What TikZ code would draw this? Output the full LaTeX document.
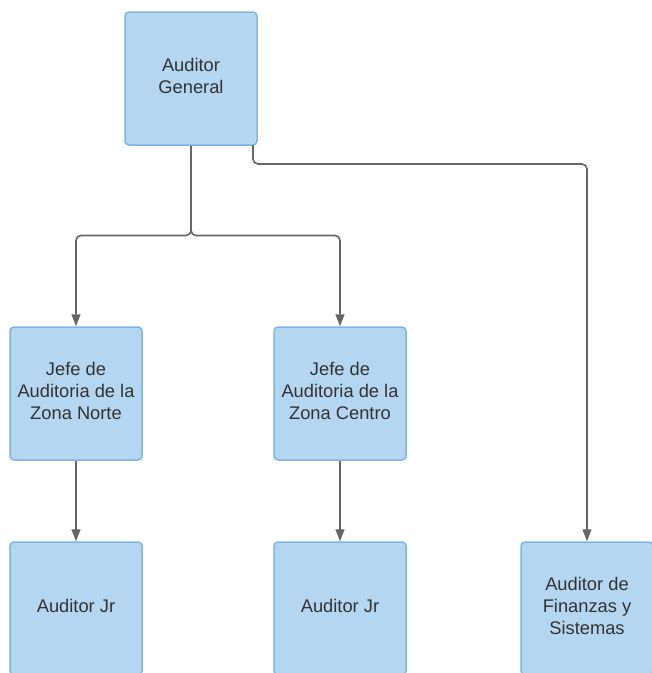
\documentclass[tikz,border=0pt]{standalone}
\usepackage{fontspec}
\setmainfont{Liberation Sans}
\usetikzlibrary{arrows.meta}
\definecolor{boxfill}{HTML}{B4D6F1}
\definecolor{boxline}{HTML}{7DB5E5}
\definecolor{linkc}{HTML}{666666}
\definecolor{txt}{HTML}{333333}
\newcommand{\boxtext}[1]{\raisebox{3.5pt}{\begin{tabular}{@{}c@{}}#1\end{tabular}}}
\tikzset{
  orgbox/.style={rectangle, rounded corners=4pt, fill=boxfill, draw=boxline, line width=1.5pt,
    minimum width=132pt, minimum height=133pt, inner sep=0pt, align=center,
    font=\fontsize{18.3}{22}\selectfont, text=txt},
  link/.style={draw=linkc, line width=1.6pt, rounded corners=5pt,
    -{Triangle[width=9pt,length=12pt]}}
}
\begin{document}
\begin{tikzpicture}[x=1pt,y=-1pt]
\useasboundingbox (0,0) rectangle (652,673);
\clip (0,0) rectangle (652,673);
\node[orgbox] (ag) at (191,78.5) {\boxtext{Auditor\\General}};
\node[orgbox] (jn) at (76,393.5) {\boxtext{Jefe de\\Auditoria de la\\Zona Norte}};
\node[orgbox] (jc) at (340,393.5) {\boxtext{Jefe de\\Auditoria de la\\Zona Centro}};
\node[orgbox] (j1) at (76,608.5) {\boxtext{Auditor Jr}};
\node[orgbox] (j2) at (340,608.5) {\boxtext{Auditor Jr}};
\node[orgbox] (fs) at (587,608.5) {\boxtext{Auditor de\\Finanzas y\\Sistemas}};
\coordinate (split) at (191,235.5);
\coordinate (agr) at (253,145);
\draw[link] (ag.south) -- (split) -| (jn.north);
\draw[link] (ag.south) -- (split) -| (jc.north);
\draw[link] (agr) |- (400,164) -| (fs.north);
\draw[link] (jn.south) -- (j1.north);
\draw[link] (jc.south) -- (j2.north);
\end{tikzpicture}
\end{document}
